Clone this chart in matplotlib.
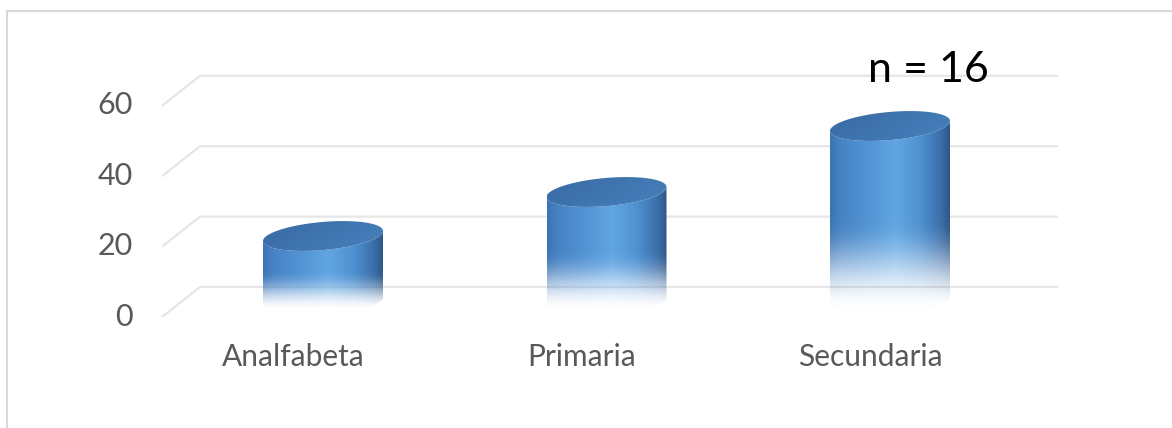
import numpy as np
import matplotlib
matplotlib.use("Agg")
import matplotlib.pyplot as plt
from matplotlib.patches import Polygon, Rectangle

# porcentaje por nivel de escolaridad
categorias = ["Analfabeta", "Primaria", "Secundaria"]
porcentajes = [18.75, 31.25, 50.0]
n_total = 16
ticks_y = [0, 20, 40, 60]

plt.rcParams["font.family"] = ["Lato", "DejaVu Sans"]

W, H = 1172, 428
PX_X = 283.5      # pixels per category step
PX_Y = 3.52       # pixels per unit of the value axis
X0, Y0 = 323, 302  # pixel position of (first category, 0)

fig = plt.figure(figsize=(W / 100, H / 100), dpi=100)
ax = fig.add_axes([0, 0, 1, 1])
ax.axis("off")


def lim():
    ax.set_xlim(-X0 / PX_X, (W - X0) / PX_X)
    ax.set_ylim(-(H - Y0) / PX_Y, Y0 / PX_Y)


lim()

# 3d floor / back wall offsets
depth_dy = 15 / PX_Y
wall_x0, wall_x1 = (200 - X0) / PX_X, (1058 - X0) / PX_X
front_x0 = (162 - X0) / PX_X

for v in ticks_y:
    ax.plot([front_x0, wall_x0, wall_x1], [v - depth_dy, v + depth_dy, v + depth_dy],
            color="#E6E6E6", lw=1.6, zorder=1, solid_capstyle="butt")
    ax.text((133 - X0) / PX_X, v - 6.7, str(v), ha="right", va="baseline",
            fontsize=22, color="#595959")

# side shading of the cylinders, left to right
pos = [0.0, 0.08, 0.35, 0.55, 0.75, 0.92, 1.0]
cols = np.array([
    [0.24, 0.45, 0.70],
    [0.27, 0.51, 0.77],
    [0.33, 0.59, 0.84],
    [0.38, 0.65, 0.89],
    [0.31, 0.57, 0.82],
    [0.23, 0.44, 0.67],
    [0.18, 0.34, 0.53],
])


def cilindro(cx, v, hw=60 / PX_X, b=4.0, s=1.42):
    tf = np.linspace(np.pi, 2 * np.pi, 120)
    xf = cx + hw * np.cos(tf)
    arc = b * np.sin(tf) + s * np.cos(tf)
    body = np.concatenate([np.c_[xf, arc], np.c_[xf[::-1], (v + arc)[::-1]]])

    y_lo, y_hi = -b - s, v + s
    nx, ny = 240, 400
    u = np.linspace(0, 1, nx)
    rgb = np.stack([np.interp(u, pos, cols[:, k]) for k in range(3)], axis=-1)
    yy = np.linspace(y_lo, y_hi, ny)
    f = np.clip((yy - (-2.5)) / (0.47 * v + 2.5), 0, 1)
    alpha = f * f * (3 - 2 * f)
    img = np.zeros((ny, nx, 4))
    img[..., :3] = rgb[None, :, :]
    img[..., 3] = alpha[:, None]
    poly = Polygon(body, closed=True, facecolor="none", edgecolor="none")
    ax.add_patch(poly)
    im = ax.imshow(img, extent=[cx - hw, cx + hw, y_lo, y_hi], origin="lower",
                   aspect="auto", interpolation="bilinear", zorder=3)
    im.set_clip_path(poly)

    # top face
    t = np.linspace(0, 2 * np.pi, 240)
    top = np.c_[cx + hw * np.cos(t), v + b * np.sin(t) + s * np.cos(t)]
    gx, gy = np.meshgrid(np.linspace(0, 1, 60), np.linspace(0, 1, 30))
    g = np.clip(0.65 * gx + 0.35 * (1 - gy), 0, 1)
    c0 = np.array([0.22, 0.41, 0.63])
    c1 = np.array([0.28, 0.51, 0.75])
    timg = c0[None, None, :] * (1 - g[..., None]) + c1[None, None, :] * g[..., None]
    tpoly = Polygon(top, closed=True, facecolor="none", edgecolor="none")
    ax.add_patch(tpoly)
    tim = ax.imshow(timg, extent=[cx - hw, cx + hw, v - b - s, v + b + s],
                    origin="lower", aspect="auto", interpolation="bilinear", zorder=4)
    tim.set_clip_path(tpoly)


for i, v in enumerate(porcentajes):
    cilindro(i, v)
    ax.text(i * 1.0175 - 0.106, -18.2, categorias[i], ha="center", va="baseline",
            fontsize=21.5, color="#595959")

ax.text(2.134, 62.5, f"n = {n_total}", ha="center", va="baseline",
        fontsize=31, color="black", zorder=5)

lim()

# chart area frame
fig.patches.append(Rectangle((7 / W, -0.1), 1.2, 1 - 11 / H + 0.1, transform=fig.transFigure,
                             fill=False, edgecolor="#D9D9D9", lw=1.5))

fig.savefig("out.png", dpi=100)
